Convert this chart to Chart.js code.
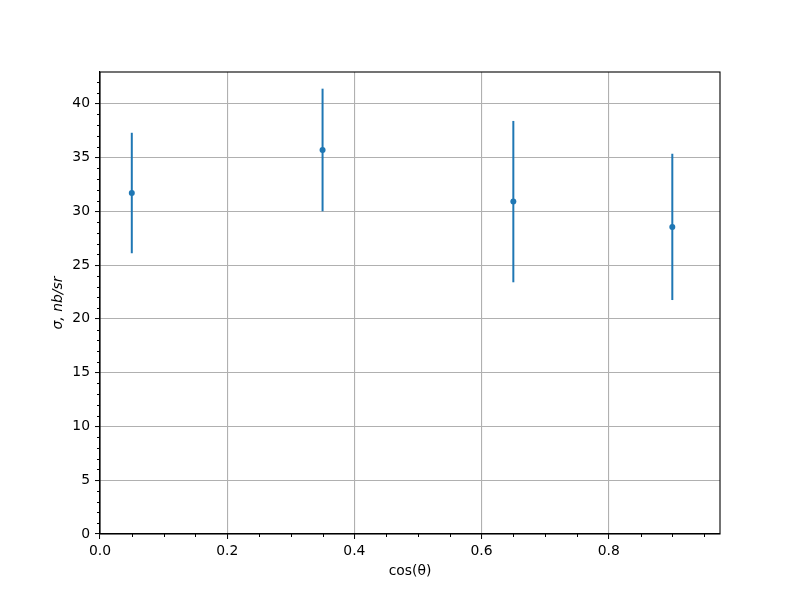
<!DOCTYPE html>
<html lang="en">
  <head>
    <meta charset="UTF-8" />
    <title>Cross section vs cos(theta)</title>
    <script src="https://cdn.jsdelivr.net/npm/chart.js"></script>
    <style>
      body { margin: 0; background: #ffffff; }
    </style>
  </head>
  <body>
    <canvas id="grafico" width="800" height="600"></canvas>

    <script>
    // dados
    const cosTheta = [0.05, 0.35, 0.65, 0.9];
    const sigma = [31.7, 35.7, 30.9, 28.55];
    const sigmaErr = [5.6, 5.7, 7.5, 6.8];

    const xMajorTicks = [0.0, 0.2, 0.4, 0.6, 0.8];
    const yMajorTicks = [0, 5, 10, 15, 20, 25, 30, 35, 40];

    const azul = "#1f77b4";
    const cinzaGrade = "#b0b0b0";

    function ehMajor(valor, lista) {
        return lista.some(v => Math.abs(v - valor) < 1e-6);
    }

    // barras de erro verticais
    const pluginErro = {
        id: "barrasErro",
        beforeDatasetsDraw(chart) {
            const ctx = chart.ctx;
            const sx = chart.scales.x;
            const sy = chart.scales.y;
            ctx.save();
            ctx.strokeStyle = azul;
            ctx.lineWidth = 2;
            ctx.lineCap = "butt";
            for (let i = 0; i < cosTheta.length; i++) {
                const px = sx.getPixelForValue(cosTheta[i]);
                ctx.beginPath();
                ctx.moveTo(px, sy.getPixelForValue(sigma[i] - sigmaErr[i]));
                ctx.lineTo(px, sy.getPixelForValue(sigma[i] + sigmaErr[i]));
                ctx.stroke();
            }
            ctx.restore();
        }
    };

    // moldura completa e ticks menores
    const pluginMoldura = {
        id: "moldura",
        afterDraw(chart) {
            const ctx = chart.ctx;
            const a = chart.chartArea;
            const sx = chart.scales.x;
            const sy = chart.scales.y;
            ctx.save();
            ctx.strokeStyle = "#000000";
            ctx.lineWidth = 1;
            sx.ticks.forEach(t => {
                if (ehMajor(t.value, xMajorTicks)) return;
                const px = Math.round(sx.getPixelForValue(t.value)) + 0.5;
                ctx.beginPath();
                ctx.moveTo(px, a.bottom);
                ctx.lineTo(px, a.bottom + 3);
                ctx.stroke();
            });
            sy.ticks.forEach(t => {
                if (ehMajor(t.value, yMajorTicks)) return;
                const py = Math.round(sy.getPixelForValue(t.value)) + 0.5;
                ctx.beginPath();
                ctx.moveTo(a.left, py);
                ctx.lineTo(a.left - 3, py);
                ctx.stroke();
            });
            ctx.lineWidth = 1.1;
            ctx.strokeRect(a.left, a.top, a.right - a.left, a.bottom - a.top);
            ctx.restore();
        }
    };

    const fonteTicks = { family: "DejaVu Sans", size: 13.9 };

    const config = {
        type: "scatter",
        data: {
            datasets: [
                {
                    label: "sigma",
                    data: cosTheta.map((x, i) => ({ x: x, y: sigma[i] })),
                    backgroundColor: azul,
                    borderColor: azul,
                    borderWidth: 0,
                    pointRadius: 3,
                    pointHoverRadius: 3,
                },
            ],
        },
        options: {
            responsive: false,
            animation: false,
            devicePixelRatio: 1,
            layout: { padding: { left: 0, right: 80, top: 72, bottom: 0 } },
            plugins: {
                legend: { display: false },
                tooltip: { enabled: false },
            },
            scales: {
                x: {
                    type: "linear",
                    min: 0,
                    max: 0.975,
                    afterFit(scale) { scale.height = 66; },
                    ticks: {
                        stepSize: 0.05,
                        includeBounds: false,
                        autoSkip: false,
                        maxRotation: 0,
                        padding: 4,
                        color: "#000000",
                        font: fonteTicks,
                        callback: v => ehMajor(v, xMajorTicks) ? v.toFixed(1) : "",
                    },
                    grid: {
                        color: c => ehMajor(c.tick.value, xMajorTicks) ? cinzaGrade : "rgba(0,0,0,0)",
                        lineWidth: 1.1,
                        drawTicks: true,
                        tickLength: 5,
                        tickColor: c => ehMajor(c.tick.value, xMajorTicks) ? "#000000" : "rgba(0,0,0,0)",
                        tickWidth: 1,
                    },
                    border: { display: true, color: "#000000", width: 1.1 },
                    title: {
                        display: true,
                        text: "cos(θ)",
                        color: "#000000",
                        font: { family: "DejaVu Sans", size: 13.9 },
                        padding: { top: 0, bottom: 20 },
                    },
                },
                y: {
                    type: "linear",
                    min: 0,
                    max: 42.95,
                    afterFit(scale) { scale.width = 100; },
                    ticks: {
                        stepSize: 1,
                        includeBounds: false,
                        autoSkip: false,
                        padding: 5,
                        color: "#000000",
                        font: fonteTicks,
                        callback: v => ehMajor(v, yMajorTicks) ? String(v) : "",
                    },
                    grid: {
                        color: c => ehMajor(c.tick.value, yMajorTicks) ? cinzaGrade : "rgba(0,0,0,0)",
                        lineWidth: 1.1,
                        drawTicks: true,
                        tickLength: 5,
                        tickColor: c => ehMajor(c.tick.value, yMajorTicks) ? "#000000" : "rgba(0,0,0,0)",
                        tickWidth: 1,
                    },
                    border: { display: true, color: "#000000", width: 1.1 },
                    title: {
                        display: true,
                        text: "σ, nb/sr",
                        color: "#000000",
                        font: { family: "DejaVu Sans", size: 13.9, style: "italic" },
                        padding: { top: 50, bottom: 0 },
                    },
                },
            },
        },
        plugins: [pluginErro, pluginMoldura],
    };

    var grafico = new Chart(document.getElementById("grafico"), config);
    </script>
  </body>
</html>
